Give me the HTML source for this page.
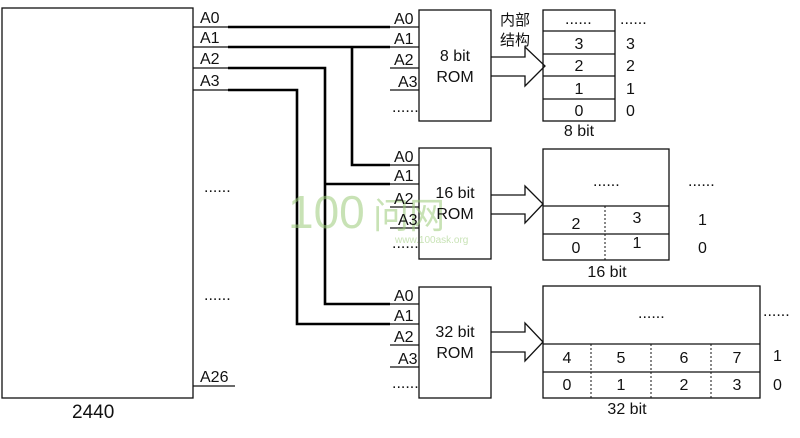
<!DOCTYPE html>
<html><head><meta charset="utf-8"><style>
html,body{margin:0;padding:0;background:#fff;}
svg{display:block;}
text{font-family:"Liberation Sans","Noto Sans CJK SC",sans-serif;font-size:16px;fill:#111;}
</style></head><body>
<svg width="800" height="438" viewBox="0 0 800 438" xmlns="http://www.w3.org/2000/svg">
<g fill="none" stroke="#111" stroke-width="1.3">
<rect x="2" y="8" width="191" height="390"/>
<line x1="193" y1="27" x2="230" y2="27"/><line x1="193" y1="47" x2="230" y2="47"/>
<line x1="193" y1="68" x2="230" y2="68"/><line x1="193" y1="90" x2="230" y2="90"/>
<line x1="193" y1="386" x2="235" y2="386"/>
<rect x="419" y="10" width="72" height="111"/>
<rect x="419" y="148" width="72" height="111"/>
<rect x="419" y="287" width="72" height="111"/>
<line x1="390" y1="27" x2="419" y2="27"/><line x1="390" y1="47" x2="419" y2="47"/>
<line x1="390" y1="68" x2="419" y2="68"/><line x1="390" y1="90" x2="419" y2="90"/>
<line x1="390" y1="165" x2="419" y2="165"/><line x1="390" y1="184" x2="419" y2="184"/>
<line x1="390" y1="207" x2="419" y2="207"/><line x1="390" y1="228" x2="419" y2="228"/>
<line x1="390" y1="304" x2="419" y2="304"/><line x1="390" y1="324" x2="419" y2="324"/>
<line x1="390" y1="345" x2="419" y2="345"/><line x1="390" y1="367" x2="419" y2="367"/>
<rect x="543" y="10" width="72" height="111"/>
<line x1="543" y1="31" x2="615" y2="31"/><line x1="543" y1="54" x2="615" y2="54"/>
<line x1="543" y1="76" x2="615" y2="76"/><line x1="543" y1="99" x2="615" y2="99"/>
<rect x="543" y="149" width="126" height="111"/>
<line x1="543" y1="206" x2="669" y2="206"/><line x1="543" y1="234" x2="669" y2="234"/>
<rect x="543" y="286" width="217" height="112"/>
<line x1="543" y1="344" x2="760" y2="344"/><line x1="543" y1="372" x2="760" y2="372"/>
<path d="M491 57H525V47L545 66L525 86V76H491"/>
<path d="M491 195H525V186L543 204L525 223V214H491"/>
<path d="M491 332H525V323L543 342L525 361V352H491"/>
</g>
<g fill="none" stroke="#111" stroke-width="1" stroke-dasharray="2,2">
<line x1="605" y1="206" x2="605" y2="260"/>
<line x1="591" y1="344" x2="591" y2="398"/><line x1="651" y1="344" x2="651" y2="398"/><line x1="711" y1="344" x2="711" y2="398"/>
</g>
<g fill="none" stroke="#000" stroke-width="2.6">
<line x1="228" y1="27" x2="390" y2="27"/>
<line x1="228" y1="47" x2="390" y2="47"/>
<path d="M352 47V165H390"/>
<path d="M228 68H325V304H390"/>
<path d="M228 90H297V324H390"/>
<line x1="325" y1="184" x2="390" y2="184"/>
</g>
<g opacity="0.55">
<text x="288" y="228" style="font-size:46px;fill:#9ccc7a">100</text>
<text x="373" y="228" style="font-size:36px;fill:#9ccc7a">问网</text>
<text x="395" y="243" style="font-size:10px;fill:#9ccc7a">www.100ask.org</text>
</g>
<g>
<text x="200" y="23">A0</text><text x="200" y="43">A1</text><text x="200" y="64">A2</text><text x="200" y="86">A3</text>
<text x="200" y="382">A26</text>
<text x="204" y="192">......</text><text x="204" y="300">......</text>
<text x="72" y="418" style="font-size:19px">2440</text>
<text x="394" y="24">A0</text><text x="394" y="44">A1</text><text x="394" y="65">A2</text><text x="398" y="87">A3</text><text x="392" y="112">......</text>
<text x="394" y="162">A0</text><text x="394" y="181">A1</text><text x="394" y="204">A2</text><text x="398" y="225">A3</text><text x="392" y="248">......</text>
<text x="394" y="301">A0</text><text x="394" y="321">A1</text><text x="394" y="342">A2</text><text x="398" y="364">A3</text><text x="392" y="388">......</text>
<text x="455" y="61" text-anchor="middle">8 bit</text><text x="455" y="82" text-anchor="middle">ROM</text>
<text x="455" y="198" text-anchor="middle">16 bit</text><text x="455" y="219" text-anchor="middle">ROM</text>
<text x="455" y="337" text-anchor="middle">32 bit</text><text x="455" y="358" text-anchor="middle">ROM</text>
<text x="500" y="25" style="font-size:15px">内部</text><text x="500" y="45" style="font-size:15px">结构</text>
<text x="565" y="24">......</text><text x="620" y="24">......</text>
<text x="579" y="49" text-anchor="middle">3</text><text x="579" y="71" text-anchor="middle">2</text>
<text x="579" y="94" text-anchor="middle">1</text><text x="579" y="116" text-anchor="middle">0</text>
<text x="626" y="49">3</text><text x="626" y="71">2</text><text x="626" y="94">1</text><text x="626" y="116">0</text>
<text x="579" y="136" text-anchor="middle">8 bit</text>
<text x="593" y="186">......</text><text x="688" y="186">......</text>
<text x="576" y="229" text-anchor="middle">2</text><text x="637" y="223" text-anchor="middle">3</text>
<text x="576" y="253" text-anchor="middle">0</text><text x="637" y="248" text-anchor="middle">1</text>
<text x="698" y="225">1</text><text x="698" y="253">0</text>
<text x="607" y="277" text-anchor="middle">16 bit</text>
<text x="638" y="318">......</text><text x="763" y="316">......</text>
<text x="567" y="363" text-anchor="middle">4</text><text x="621" y="363" text-anchor="middle">5</text><text x="684" y="363" text-anchor="middle">6</text><text x="737" y="363" text-anchor="middle">7</text>
<text x="567" y="390" text-anchor="middle">0</text><text x="621" y="390" text-anchor="middle">1</text><text x="684" y="390" text-anchor="middle">2</text><text x="737" y="390" text-anchor="middle">3</text>
<text x="773" y="361">1</text><text x="773" y="390">0</text>
<text x="627" y="414" text-anchor="middle">32 bit</text>
</g>
</svg>
</body></html>
